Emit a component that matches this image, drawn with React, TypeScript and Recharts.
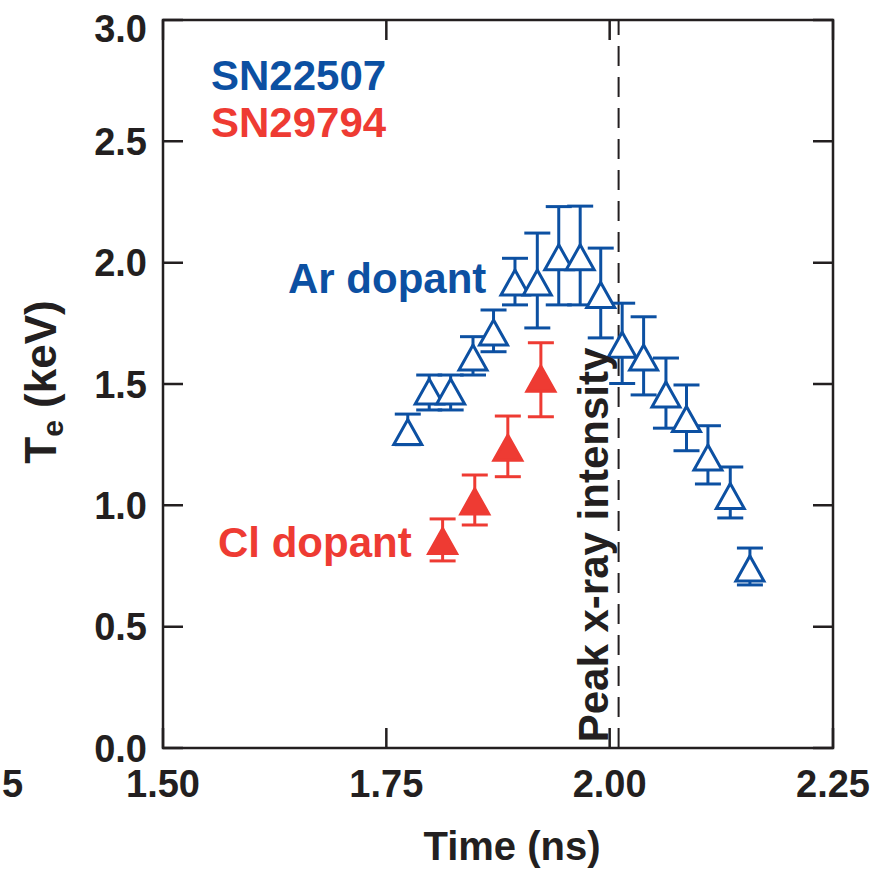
import React from "react";
import {
  ScatterChart,
  Scatter,
  XAxis,
  YAxis,
  CartesianGrid,
  ErrorBar,
  ReferenceLine,
  ReferenceArea,
} from "recharts";

// Ar dopant shot (SN22507)
const arTime = [1.774, 1.798, 1.822, 1.847, 1.87, 1.894, 1.919, 1.943, 1.967, 1.99, 2.014, 2.038, 2.063, 2.086, 2.11, 2.135, 2.157];
const arTe = [1.3, 1.467, 1.467, 1.607, 1.71, 1.916, 1.916, 2.02, 2.02, 1.865, 1.66, 1.607, 1.455, 1.354, 1.195, 1.036, 0.738];
const arHigh = [1.376, 1.537, 1.537, 1.695, 1.805, 2.018, 2.122, 2.231, 2.233, 2.06, 1.833, 1.777, 1.607, 1.496, 1.328, 1.158, 0.824];
const arLow = [1.25, 1.393, 1.393, 1.537, 1.633, 1.826, 1.731, 1.826, 1.826, 1.69, 1.502, 1.455, 1.318, 1.225, 1.088, 0.948, 0.672];

// Cl dopant shot (SN29794)
const clTime = [1.813, 1.849, 1.886, 1.923];
const clTe = [0.851, 1.014, 1.235, 1.52];
const clHigh = [0.944, 1.125, 1.368, 1.67];
const clLow = [0.771, 0.919, 1.118, 1.365];

const xTicks = [1.5, 1.75, 2.0, 2.25];
const yTicks = [0, 0.5, 1.0, 1.5, 2.0, 2.5, 3.0];
const peakTime = 2.01;

const BLUE = "#0c50a2";
const RED = "#ee3b33";
const INK = "#231f20";
const FONT = '"Liberation Sans", Arial, Helvetica, sans-serif';

const W = 886;
const H = 871;

function toRows(t: number[], v: number[], hi: number[], lo: number[]) {
  return t.map((x, i) => ({ time: x, te: v[i], err: [v[i] - lo[i], hi[i] - v[i]] }));
}

const arData = toRows(arTime, arTe, arHigh, arLow);
const clData = toRows(clTime, clTe, clHigh, clLow);

const triangle = (color: string, filled: boolean) => (props: any) => {
  const { cx, cy } = props;
  if (cx == null || cy == null) return <g />;
  const pts = `${cx},${cy - 13} ${cx + 14},${cy + 12} ${cx - 14},${cy + 12}`;
  return (
    <polygon
      points={pts}
      fill={filled ? color : "#fff"}
      stroke={color}
      strokeWidth={3}
    />
  );
};

const YTick = (props: any) => {
  const { x, y, payload } = props;
  // top label sits a bit lower in the original
  const shift = payload.value === 3 ? 8 : 0;
  return (
    <text
      x={x}
      y={y + shift}
      dy="0.36em"
      textAnchor="end"
      fill={INK}
      fontSize={38}
      fontWeight="bold"
      fontFamily={FONT}
    >
      {payload.value.toFixed(1)}
    </text>
  );
};

const tickStyle = { fontSize: 38, fontWeight: "bold", fill: INK, fontFamily: FONT };
const textStyle = { fontWeight: "bold", fontFamily: FONT } as const;

export default function App() {
  return (
    <div style={{ position: "absolute", left: 0, top: 0, width: W, height: H, background: "#fff" }}>
      <ScatterChart width={W} height={H} margin={{ top: 20, right: 53, left: 0, bottom: 0 }}>
        <CartesianGrid horizontal vertical={false} stroke={INK} strokeWidth={2.5} strokeDasharray="20 630 20 2000" />
        <CartesianGrid horizontal={false} vertical stroke={INK} strokeWidth={2.5} strokeDasharray="20 688 20 2000" />
        <XAxis
          type="number"
          dataKey="time"
          domain={[1.5, 2.25]}
          ticks={xTicks}
          allowDataOverflow
          height={123}
          axisLine={false}
          tickLine={false}
          tickSize={0}
          tickMargin={22}
          tick={tickStyle}
          tickFormatter={(v: number) => v.toFixed(2)}
        />
        <YAxis
          type="number"
          dataKey="te"
          domain={[0, 3]}
          ticks={yTicks}
          allowDataOverflow
          width={163}
          axisLine={false}
          tickLine={false}
          tickSize={0}
          tickMargin={16}
          tick={<YTick />}
        />
        <ReferenceArea x1={1.5} x2={2.25} y1={0} y2={3} fill="none" stroke={INK} strokeWidth={2.5} />
        <ReferenceLine x={peakTime} stroke={INK} strokeWidth={2} strokeDasharray="20 11" />
        <Scatter data={arData} shape={triangle(BLUE, false)} isAnimationActive={false}>
          <ErrorBar dataKey="err" direction="y" width={13} stroke={BLUE} strokeWidth={3} />
        </Scatter>
        <Scatter data={clData} shape={triangle(RED, true)} isAnimationActive={false}>
          <ErrorBar dataKey="err" direction="y" width={13} stroke={RED} strokeWidth={3} />
        </Scatter>
      </ScatterChart>
      <svg width={W} height={H} style={{ position: "absolute", left: 0, top: 0, pointerEvents: "none" }}>
        <text x={211} y={90} fill={BLUE} fontSize={42} {...textStyle}>SN22507</text>
        <text x={211} y={137} fill={RED} fontSize={42} {...textStyle}>SN29794</text>
        <text x={288} y={293} fill={BLUE} fontSize={42} {...textStyle}>Ar dopant</text>
        <text x={218} y={557} fill={RED} fontSize={42} {...textStyle}>Cl dopant</text>
        <text transform="translate(608,545) rotate(-90)" textAnchor="middle" fill={INK} fontSize={42} {...textStyle}>
          Peak x-ray intensity
        </text>
        <text transform="translate(56,382) rotate(-90)" textAnchor="middle" fill={INK} fontSize={44} {...textStyle}>
          <tspan>T</tspan>
          <tspan fontSize={30} dy={7}>e</tspan>
          <tspan dy={-7}> (keV)</tspan>
        </text>
        <text x={512} y={860} textAnchor="middle" fill={INK} fontSize={40} {...textStyle}>Time (ns)</text>
        <text x={2} y={797} fill={INK} fontSize={38} {...textStyle}>5</text>
      </svg>
    </div>
  );
}
